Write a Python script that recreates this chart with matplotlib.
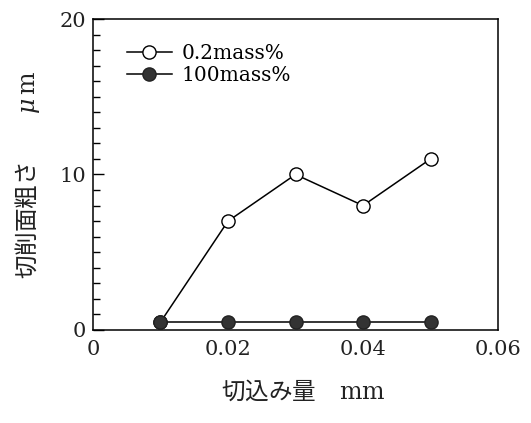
import matplotlib
matplotlib.use('Agg')
from matplotlib import pyplot as plt
from matplotlib.ticker import MultipleLocator

# データ
depth = [0.01, 0.02, 0.03, 0.04, 0.05]
rough_02 = [0.5, 7, 10, 8, 11]
rough_100 = [0.5, 0.5, 0.5, 0.5, 0.5]
x_ticks = [0, 0.02, 0.04, 0.06]
x_labels = ['0', '0.02', '0.04', '0.06']
y_ticks = [0, 10, 20]

serif = ['DejaVu Serif']
cjk = ['Noto Sans CJK JP', 'DejaVu Sans']
plt.rcParams['mathtext.fontset'] = 'dejavuserif'

fig = plt.figure(figsize=(5.31, 4.23), dpi=100)
ax = fig.add_axes([0.175, 0.22, 0.763, 0.735])

ax.plot(depth, rough_100, '-o', color='black', lw=1.1, ms=9.5,
        mfc='#333333', mec='#222222', label='100mass%', zorder=3)
ax.plot(depth, rough_02, '-o', color='black', lw=1.1, ms=9.5,
        mfc='white', mec='black', label='0.2mass%', zorder=2)

ax.set_xlim(0, 0.06)
ax.set_ylim(0, 20)
ax.set_xticks(x_ticks)
ax.set_xticklabels(x_labels, fontfamily=serif, fontsize=15, color='#222222')
ax.set_yticks(y_ticks)
ax.set_yticklabels([str(v) for v in y_ticks], fontfamily=serif, fontsize=15, color='#222222')
ax.yaxis.set_minor_locator(MultipleLocator(1))
ax.tick_params(axis='y', which='major', direction='in', length=8, width=1, pad=5)
ax.tick_params(axis='y', which='minor', direction='in', length=5, width=1)
ax.tick_params(axis='x', which='major', length=0, pad=7)
for s in ax.spines.values():
    s.set_linewidth(1.1)

ax.set_xlabel('切込み量　$\\mathrm{mm}$', fontfamily=cjk, fontsize=17, color='#222222')
ax.xaxis.set_label_coords(0.52, -0.155)
ax.set_ylabel('切削面粗さ　　$\\mu\\,\\mathrm{m}$', fontfamily=cjk, fontsize=17, color='#222222')
ax.yaxis.set_label_coords(-0.125, 0.5)

h, l = ax.get_legend_handles_labels()
ax.legend(h[::-1], l[::-1], loc='upper left', bbox_to_anchor=(0.04, 0.978),
          frameon=False, prop={'family': serif, 'size': 14.5},
          handlelength=2.2, handletextpad=0.5, labelspacing=0.15)

plt.savefig('out.png', dpi=100)
